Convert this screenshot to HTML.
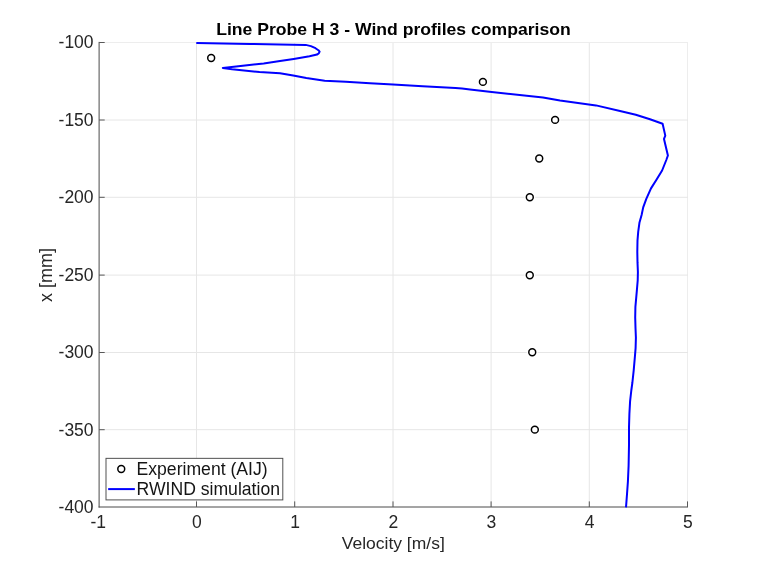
<!DOCTYPE html>
<html><head><meta charset="utf-8"><title>Line Probe H 3</title>
<style>
html,body{margin:0;padding:0;background:#fff;}
body{width:760px;height:570px;overflow:hidden;font-family:"Liberation Sans",sans-serif;}
svg{display:block;will-change:transform;}
text{font-family:"Liberation Sans",sans-serif;fill:#262626;}
.k{fill:#000;}
.l{fill:#151515;}
</style></head><body>
<svg width="760" height="570" viewBox="0 0 760 570">
<rect x="0" y="0" width="760" height="570" fill="#ffffff"/>

<g stroke="#e6e6e6" stroke-width="1" fill="none">
<line x1="196.5" y1="42.0" x2="196.5" y2="507.0"/>
<line x1="294.7" y1="42.0" x2="294.7" y2="507.0"/>
<line x1="393.0" y1="42.0" x2="393.0" y2="507.0"/>
<line x1="491.1" y1="42.0" x2="491.1" y2="507.0"/>
<line x1="589.3" y1="42.0" x2="589.3" y2="507.0"/>
<line x1="687.5" y1="42.0" x2="687.5" y2="507.0" stroke="#ededed"/>
<line x1="99.1" y1="42.5" x2="688.0" y2="42.5" stroke="#ededed"/>
<line x1="99.1" y1="120.0" x2="688.0" y2="120.0"/>
<line x1="99.1" y1="197.3" x2="688.0" y2="197.3"/>
<line x1="99.1" y1="275.1" x2="688.0" y2="275.1"/>
<line x1="99.1" y1="352.5" x2="688.0" y2="352.5"/>
<line x1="99.1" y1="429.7" x2="688.0" y2="429.7"/>
</g>
<g stroke="#4a4a4a" stroke-width="1" fill="none">
<line x1="99.1" y1="41.9" x2="99.1" y2="507.5"/>
<line x1="98.6" y1="507.0" x2="688.0" y2="507.0"/>
<line x1="196.5" y1="507.0" x2="196.5" y2="501.4" stroke="#585858"/>
<line x1="294.7" y1="507.0" x2="294.7" y2="501.4" stroke="#585858"/>
<line x1="393.0" y1="507.0" x2="393.0" y2="501.4" stroke="#585858"/>
<line x1="491.1" y1="507.0" x2="491.1" y2="501.4" stroke="#585858"/>
<line x1="589.3" y1="507.0" x2="589.3" y2="501.4" stroke="#585858"/>
<line x1="687.5" y1="507.0" x2="687.5" y2="501.4" stroke="#585858"/>
<line x1="99.1" y1="42.5" x2="104.69999999999999" y2="42.5" stroke="#585858"/>
<line x1="99.1" y1="120.0" x2="104.69999999999999" y2="120.0" stroke="#585858"/>
<line x1="99.1" y1="197.3" x2="104.69999999999999" y2="197.3" stroke="#585858"/>
<line x1="99.1" y1="275.1" x2="104.69999999999999" y2="275.1" stroke="#585858"/>
<line x1="99.1" y1="352.5" x2="104.69999999999999" y2="352.5" stroke="#585858"/>
<line x1="99.1" y1="429.7" x2="104.69999999999999" y2="429.7" stroke="#585858"/>
</g>
<polyline points="196.3,43.0 250.0,43.9 305.7,44.9 310.9,46.1 315.5,48.2 318.4,50.2 319.6,51.6 318.9,53.2 317.0,54.6 309.5,56.3 293.7,59.0 280.0,61.1 263.7,63.4 245.0,65.6 222.8,68.0 232.1,69.3 259.5,72.1 280.0,73.2 293.2,75.5 306.3,78.1 324.7,80.7 345.8,81.8 370.0,83.2 393.0,84.5 422.6,86.3 455.5,88.0 462.1,88.6 470.0,89.5 491.6,92.0 543.0,97.4 560.0,100.5 596.0,105.4 620.0,111.0 635.8,114.7 650.0,119.3 662.6,123.7 665.3,135.6 664.0,138.9 667.9,155.5 666.3,160.0 662.1,170.5 656.3,180.0 651.0,188.4 646.3,198.9 643.2,207.4 641.6,215.0 639.5,222.4 638.2,231.8 637.5,240.3 637.3,251.8 637.5,262.4 637.9,272.0 637.7,280.5 636.8,291.1 635.4,306.8 635.2,317.4 635.5,328.0 635.9,337.6 635.6,348.2 634.9,356.6 633.7,370.3 632.4,382.5 631.3,390.5 630.1,401.1 629.4,413.7 629.0,427.4 629.0,445.0 628.6,465.8 627.9,481.6 627.0,494.2 626.0,507.3" fill="none" stroke="#0000ff" stroke-width="2" stroke-linejoin="round" stroke-linecap="butt"/>
<g fill="#ffffff" stroke="#ffffff" stroke-width="4">
<circle cx="211.17" cy="58.06" r="3.5"/>
<circle cx="482.90" cy="81.88" r="3.5"/>
<circle cx="555.11" cy="119.89" r="3.5"/>
<circle cx="539.24" cy="158.53" r="3.5"/>
<circle cx="529.80" cy="197.30" r="3.5"/>
<circle cx="529.78" cy="275.26" r="3.5"/>
<circle cx="532.24" cy="352.32" r="3.5"/>
<circle cx="534.83" cy="429.64" r="3.5"/>
</g>
<g fill="none" stroke="#000000" stroke-width="1.5">
<circle cx="211.17" cy="58.06" r="3.45"/>
<circle cx="482.90" cy="81.88" r="3.45"/>
<circle cx="555.11" cy="119.89" r="3.45"/>
<circle cx="539.24" cy="158.53" r="3.45"/>
<circle cx="529.80" cy="197.30" r="3.45"/>
<circle cx="529.78" cy="275.26" r="3.45"/>
<circle cx="532.24" cy="352.32" r="3.45"/>
<circle cx="534.83" cy="429.64" r="3.45"/>
</g>
<g font-size="17.5px">
<text x="98.25" y="528.45" text-anchor="middle">-1</text>
<text x="196.85" y="528.45" text-anchor="middle">0</text>
<text x="295.05" y="528.45" text-anchor="middle">1</text>
<text x="393.35" y="528.45" text-anchor="middle">2</text>
<text x="491.45" y="528.45" text-anchor="middle">3</text>
<text x="589.65" y="528.45" text-anchor="middle">4</text>
<text x="687.85" y="528.45" text-anchor="middle">5</text>
<text x="93.6" y="48.45" text-anchor="end">-100</text>
<text x="93.6" y="125.87" text-anchor="end">-150</text>
<text x="93.6" y="203.28" text-anchor="end">-200</text>
<text x="93.6" y="280.69" text-anchor="end">-250</text>
<text x="93.6" y="358.11" text-anchor="end">-300</text>
<text x="93.6" y="435.52" text-anchor="end">-350</text>
<text x="93.6" y="512.94" text-anchor="end">-400</text>
</g>
<text transform="translate(393.25,548.7) scale(1.0145,1)" font-size="17.25px" text-anchor="middle">Velocity [m/s]</text>
<text transform="translate(52.4,275.1) rotate(-90) scale(1.017,1)" font-size="17.7px" text-anchor="middle">x [mm]</text>
<text transform="translate(393.45,34.9) scale(1.054,1)" font-size="16.7px" font-weight="bold" text-anchor="middle" class="k">Line Probe H 3 - Wind profiles comparison</text>
<rect x="106.0" y="458.35" width="176.8" height="41.55" fill="#ffffff" stroke="#505050" stroke-width="1"/>
<circle cx="121.25" cy="468.95" r="3.45" fill="none" stroke="#000" stroke-width="1.5"/>
<line x1="108.15" y1="489.1" x2="134.85" y2="489.1" stroke="#0000ff" stroke-width="2"/>
<text x="136.5" y="474.5" font-size="17.62px" class="l">Experiment (AIJ)</text>
<text x="136.5" y="494.5" font-size="17.62px" class="l">RWIND simulation</text>
</svg>
</body></html>
